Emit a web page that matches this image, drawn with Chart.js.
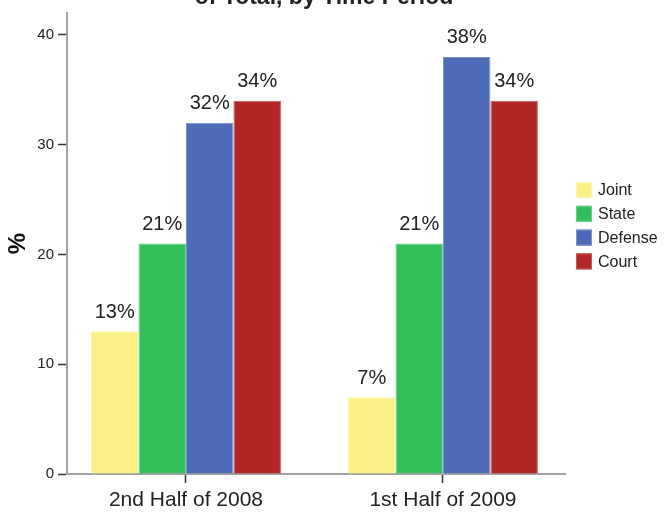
<!DOCTYPE html>
<html>
<head>
<meta charset="utf-8">
<script src="https://cdn.jsdelivr.net/npm/chart.js@4/dist/chart.umd.min.js"></script>
<style>
  html, body { margin: 0; padding: 0; background: #fff; }
  #wrap { width: 669px; height: 512px; position: relative; }
</style>
</head>
<body>
<div id="wrap"><canvas id="periodChart"></canvas></div>
<script>
// categories and series
const periods = ['2nd Half of 2008', '1st Half of 2009'];
const seriesNames = ['Joint', 'State', 'Defense', 'Court'];
const joint = [13, 7];
const state = [21, 21];
const defense = [32, 38];
const court = [34, 34];
const yTicks = [0, 10, 20, 30, 40];

const FONT = "'Liberation Sans', Arial, sans-serif";
const fills = ['#FAF286', '#34BE5B', '#4E6BB8', '#B12725'];
const edges = ['#FCF6B0', '#6FD08A', '#7C92CC', '#C85A58'];

const seriesValues = [joint, state, defense, court];

// percentages written above each bar
const barLabels = {
    id: 'barLabels',
    afterDatasetsDraw(chart) {
        const ctx = chart.ctx;
        ctx.save();
        ctx.font = '20px ' + FONT;
        ctx.fillStyle = '#222';
        ctx.textAlign = 'center';
        ctx.textBaseline = 'middle';
        chart.data.datasets.forEach((ds, i) => {
            chart.getDatasetMeta(i).data.forEach((bar, j) => {
                ctx.fillText(ds.data[j].y + '%', bar.x, bar.y - 19);
            });
        });
        ctx.restore();
    }
};

// legend on the right, boxes plus names
const sideLegend = {
    id: 'sideLegend',
    afterDraw(chart) {
        const ctx = chart.ctx;
        ctx.save();
        ctx.font = '16px ' + FONT;
        ctx.textBaseline = 'middle';
        ctx.textAlign = 'left';
        chart.data.datasets.forEach((ds, i) => {
            const cy = 190 + i * 23.8;
            ctx.fillStyle = ds.backgroundColor;
            ctx.fillRect(576, cy - 8, 16, 16);
            ctx.strokeStyle = ds.borderColor;
            ctx.lineWidth = 1;
            ctx.strokeRect(576.5, cy - 7.5, 15, 15);
            ctx.fillStyle = '#222';
            ctx.fillText(ds.label, 598, cy + 1);
        });
        ctx.restore();
    }
};

// heading, mostly above the top edge
const heading = {
    id: 'heading',
    afterDraw(chart) {
        const ctx = chart.ctx;
        ctx.save();
        ctx.font = 'bold 23px ' + FONT;
        ctx.fillStyle = '#222';
        ctx.textAlign = 'center';
        ctx.textBaseline = 'alphabetic';
        ctx.fillText('of Total, by Time Period', 324, 4);
        ctx.restore();
    }
};

const ctx = document.getElementById('periodChart').getContext('2d');
new Chart(ctx, {
    type: 'bar',
    data: {
        datasets: seriesNames.map((name, i) => ({
            label: name,
            data: periods.map((p, j) => ({ x: j, y: seriesValues[i][j] })),
            backgroundColor: fills[i],
            borderColor: edges[i],
            borderWidth: 1,
            categoryPercentage: 0.739,
            barPercentage: 1
        }))
    },
    options: {
        responsive: true,
        maintainAspectRatio: false,
        animation: false,
        layout: { padding: { top: 10, right: 104, left: 0, bottom: 0 } },
        plugins: {
            legend: { display: false },
            tooltip: { enabled: false }
        },
        scales: {
            x: {
                type: 'linear',
                offset: false,
                min: -0.463,
                max: 1.475,
                afterBuildTicks: scale => {
                    scale.ticks = periods.map((p, j) => ({ value: j }));
                },
                afterFit: scale => { scale.height = 38; },
                border: { display: true, color: '#a3a3a3', width: 2 },
                grid: {
                    offset: false,
                    drawOnChartArea: false,
                    drawTicks: true,
                    tickLength: 9,
                    tickColor: '#333',
                    tickWidth: 1.5
                },
                ticks: {
                    padding: 5,
                    color: '#222',
                    font: { family: FONT, size: 21 },
                    maxRotation: 0,
                    callback: v => periods[v]
                }
            },
            y: {
                min: 0,
                max: 42,
                afterBuildTicks: scale => {
                    scale.ticks = yTicks.map(v => ({ value: v }));
                },
                afterFit: scale => { scale.width = 67; },
                border: { display: true, color: '#a3a3a3', width: 2 },
                grid: {
                    drawOnChartArea: false,
                    drawTicks: true,
                    tickLength: 9,
                    tickColor: '#333',
                    tickWidth: 1.5
                },
                ticks: {
                    padding: 4,
                    color: '#222',
                    font: { family: FONT, size: 15 }
                },
                title: {
                    display: true,
                    text: '%',
                    color: '#111',
                    font: { family: FONT, size: 24, weight: 'bold' },
                    padding: { top: 4, bottom: 0 }
                }
            }
        }
    },
    plugins: [barLabels, sideLegend, heading]
});
</script>
</body>
</html>
